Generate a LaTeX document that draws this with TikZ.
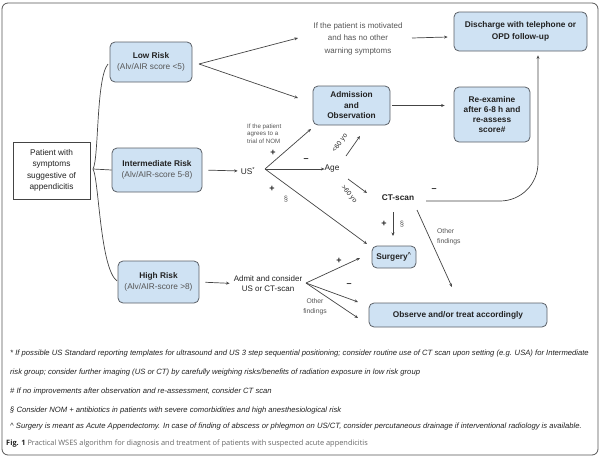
\documentclass[tikz,border=0pt]{standalone}
\usepackage{fontspec}
\setmainfont{Liberation Sans}
\newfontfamily\capfont{Open Sans}
\usetikzlibrary{arrows.meta,calc}
\definecolor{boxc}{HTML}{CFE2F3}
\definecolor{bordc}{HTML}{5A5F66}
\definecolor{linec}{HTML}{444444}
\definecolor{txtc}{HTML}{222222}
\definecolor{softc}{HTML}{555555}
\definecolor{capgray}{HTML}{666666}
\definecolor{framec}{HTML}{555555}
\tikzset{
  bx/.style={draw=bordc, fill=boxc, rounded corners=5pt, line width=0.8pt, inner sep=0pt, text=txtc, align=center, font=\fontsize{8.3}{11.5}\selectfont\bfseries},
  plainbx/.style={draw=linec, fill=white, line width=0.8pt, inner sep=0pt, text=txtc, align=center, font=\fontsize{8.3}{11.3}\selectfont},
  lbl/.style={inner sep=0pt, text=txtc, align=center, font=\fontsize{8.3}{12}\selectfont},
  soft/.style={inner sep=0pt, text=softc, align=center, font=\fontsize{8}{12.5}\selectfont},
  tiny/.style={inner sep=0pt, text=softc, align=left, font=\fontsize{6.2}{7.8}\selectfont},
  small/.style={inner sep=0pt, text=softc, align=left, font=\fontsize{6.8}{9.8}\selectfont},
  sign/.style={inner sep=0pt, text=txtc, font=\fontsize{9}{10}\selectfont\bfseries},
  sect/.style={inner sep=0pt, text=softc, font=\fontsize{7.5}{9}\selectfont},
  agel/.style={inner sep=0pt, text=txtc, font=\fontsize{6.8}{7.5}\selectfont},
  arr/.style={draw=linec, line width=0.7pt, -{Stealth[length=3.5pt,width=3pt]}},
  ln/.style={draw=linec, line width=0.7pt},
  foot/.style={inner sep=0pt, anchor=west, text=txtc, font=\fontsize{7.65}{8}\selectfont\itshape}
}
\begin{document}
\begin{tikzpicture}[x=1pt,y=-1pt]
\useasboundingbox (0,0) rectangle (600,458);
\draw[framec, line width=0.8pt, rounded corners=6pt] (2,3) rectangle (598,455);

% boxes
\node[plainbx, minimum width=77pt, minimum height=57pt] (pat) at (51.5,170.5) {Patient with\\symptoms\\suggestive of\\appendicitis};
\node[bx, minimum width=82pt, minimum height=40pt] (low) at (151,62) {Low Risk\\{\mdseries\color{softc}(Alv/AIR score <5)}};
\node[bx, minimum width=90pt, minimum height=44pt] (mid) at (157,170) {Intermediate Risk\\{\mdseries\color{softc}(Alv/AIR-score 5-8)}};
\node[bx, minimum width=81pt, minimum height=42pt] (high) at (158.5,282) {High Risk\\{\mdseries\color{softc}(Alv/AIR-score >8)}};
\node[bx, minimum width=133pt, minimum height=39pt] (dis) at (520.5,31.5) {Discharge with telephone or\\OPD follow-up};
\node[bx, minimum width=77pt, minimum height=39pt, font=\fontsize{8.3}{10.5}\selectfont\bfseries] (adm) at (351.5,105.5) {Admission\\and\\Observation};
\node[bx, minimum width=76pt, minimum height=55pt, font=\fontsize{8.3}{10.3}\selectfont\bfseries] (rex) at (492,114.5) {Re-examine\\after 6-8 h and\\re-assess\\score\#};
\node[bx, minimum width=44pt, minimum height=22pt] (sur) at (394,257) {Surgery\textsuperscript{\textasciicircum}};
\node[bx, minimum width=178pt, minimum height=24pt] (obs) at (458,315) {Observe and/or treat accordingly};

% text nodes
\node[soft] (mot) at (358,38.5) {If the patient is motivated\\and has no other\\warning symptoms};
\node[lbl] (us) at (248,171) {US\textsuperscript{*}};
\node[lbl] (age) at (332,169) {Age};
\node[lbl, font=\fontsize{8.3}{12}\selectfont\bfseries] (ct) at (398,198) {CT-scan};
\node[lbl, font=\fontsize{8}{9.5}\selectfont] (admit) at (268,283.5) {Admit and consider\\US or CT-scan};
\node[tiny, anchor=north west] (nom) at (247,123.5) {If the patient\\agrees to a\\trial of NOM};
\node[small, anchor=north west] (of1) at (437,228.5) {Other\\findings};
\node[small, align=center, anchor=north] (of2) at (315,298.5) {Other\\findings};
\node[agel, rotate=53] (lt60) at (340,143) {<60 yo};
\node[agel, rotate=-50] (gt60) at (349,194) {>60 yo};

% signs
\node[sign] (s1) at (273,153) {+};
\node[sign] (s2) at (306,160) {--};
\node[sign] (s3) at (272,189) {+};
\node[sect] (s4) at (286,199) {\S};
\node[sign] (s5) at (384,224) {+};
\node[sect] (s6) at (402,224) {\S};
\node[sign] (s7) at (434,190) {--};
\node[sign] (s8) at (339,261) {+};
\node[sign] (s9) at (349,285) {--};

% coordinates
\coordinate (brace) at (93,169);
\coordinate (lowap) at (199,64);
\coordinate (lowt1) at (298,38);
\coordinate (lowt2) at (298,98);
\coordinate (usap) at (265,169);
\coordinate (usadm) at (311,129);
\coordinate (ussur) at (367,244);
\coordinate (l60a) at (346,156);
\coordinate (l60b) at (360,136);
\coordinate (g60a) at (348,179);
\coordinate (g60b) at (367,193);
\coordinate (hiap) at (306,283);
\coordinate (hisur) at (360,258);
\coordinate (hiobs1) at (358,302);
\coordinate (hiobs2) at (358,318);
\coordinate (ctobs) at (452,287);
\coordinate (ctend) at (426,201);
\coordinate (ctdn1) at (393,212);
\coordinate (ctdn2) at (393,236);
\coordinate (ctdiag) at (417,210);
\coordinate (motend) at (412,38);

% brace from patient
\draw[ln] (brace) -- (mid.west);
\draw[ln] (brace) .. controls (99,158) and (96,78) .. (108,64);
\draw[ln] (brace) .. controls (99,180) and (100,268) .. (117,281);

% connectors
\draw[arr] (lowap) -- (lowt1);
\draw[arr] (lowap) -- (lowt2);
\draw[arr] (motend) -- ($(dis.west)+(-6,5.5)$);
\draw[arr, shorten <=2pt, shorten >=9pt] (adm.east) -- (rex.west |- adm.east);
\draw[arr, shorten <=6pt, shorten >=3pt] (mid.east) -- (us.west);
\draw[arr] (usap) -- (usadm);
\draw[arr] (usap) -- (age.west);
\draw[arr] (usap) -- (ussur);
\draw[arr] (l60a) -- (l60b);
\draw[arr] (g60a) -- (g60b);
\draw[arr] (ctdn1) -- (ctdn2);
\draw[arr] (ctdiag) -- (ctobs);
\draw[arr, rounded corners=38pt] (ctend) -- (538,201) -- ($(dis.south)+(17.5,4)$);
\draw[arr, shorten <=6pt, shorten >=4pt] (high.east) -- (admit.west);
\draw[arr] (hiap) -- (hisur);
\draw[arr] (hiap) -- (hiobs1);
\draw[arr] (hiap) -- (hiobs2);

% footnotes
\node[foot] (f1) at (10,354) {* If possible US Standard reporting templates for ultrasound and US 3 step sequential positioning; consider routine use of CT scan upon setting (e.g. USA) for Intermediate};
\node[foot] (f2) at (10,373) {risk group; consider further imaging (US or CT) by carefully weighing risks/benefits of radiation exposure in low risk group};
\node[foot] (f3) at (10,392) {\# If no improvements after observation and re-assessment, consider CT scan};
\node[foot] (f4) at (10,411) {\S{} Consider NOM + antibiotics in patients with severe comorbidities and high anesthesiological risk};
\node[foot] (f5) at (10,427) {\textasciicircum{} Surgery is meant as Acute Appendectomy. In case of finding of abscess or phlegmon on US/CT, consider percutaneous drainage if interventional radiology is available.};
\node[inner sep=0pt, anchor=west, font=\capfont\fontsize{7.4}{9}\selectfont] (cap) at (6,444) {\textbf{\color{txtc}Fig. 1} {\color{capgray}Practical WSES algorithm for diagnosis and treatment of patients with suspected acute appendicitis}};
\end{tikzpicture}
\end{document}
